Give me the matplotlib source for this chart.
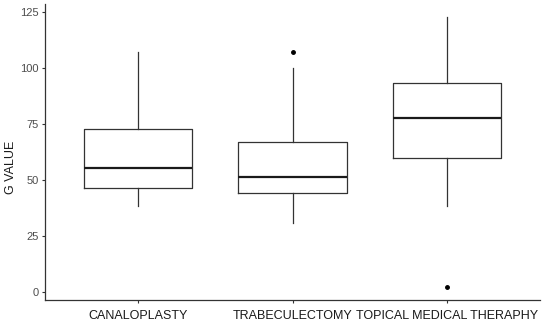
import matplotlib
matplotlib.use("Agg")
import matplotlib.pyplot as plt

categories = ["CANALOPLASTY", "TRABECULECTOMY", "TOPICAL MEDICAL THERAPHY"]
whislo = [38.4, 30.7, 38.5]
q1 = [46.6, 44.3, 59.8]
med = [55.4, 51.5, 77.5]
q3 = [72.6, 67.0, 93.5]
whishi = [107.3, 100.1, 122.6]
fliers = [[], [107.3], [2.4]]
yticks = [0, 25, 50, 75, 100, 125]

plt.rcParams['font.family'] = ['Liberation Sans', 'DejaVu Sans']

fig = plt.figure(figsize=(5.5, 3.34), dpi=100)
ax = fig.add_axes([45/550, 1-300/334, (540-45)/550, (300-4)/334])

stats = []
for i, c in enumerate(categories):
    stats.append(dict(label=c, whislo=whislo[i], q1=q1[i], med=med[i],
                      q3=q3[i], whishi=whishi[i], fliers=fliers[i]))

pos = list(range(1, len(categories)+1))
ax.bxp(stats, positions=pos, widths=0.7, showcaps=False,
       boxprops=dict(color='#333333', linewidth=0.9),
       whiskerprops=dict(color='#333333', linewidth=0.9),
       medianprops=dict(color='#1a1a1a', linewidth=1.6),
       flierprops=dict(marker='o', markerfacecolor='black', markeredgecolor='black', markersize=2.5))

ax.set_xlim(0.4, 3.6)
ax.set_ylim(-3.6, 128.6)
ax.set_yticks(yticks)
ax.set_yticklabels([str(t) for t in yticks])
ax.set_xticks(pos)
ax.set_xticklabels(categories)
for s in ['top', 'right']:
    ax.spines[s].set_visible(False)
for s in ['left', 'bottom']:
    ax.spines[s].set_color('#333333')
    ax.spines[s].set_linewidth(0.9)
ax.tick_params(axis='y', labelsize=8, labelcolor='#4D4D4D', color='#333333', length=2.5, width=0.8, pad=2)
ax.tick_params(axis='x', labelsize=9, labelcolor='#1a1a1a', color='#333333', length=2.5, width=0.8, pad=5)
ax.set_ylabel("G VALUE", fontsize=9, color='#1a1a1a')
ax.yaxis.set_label_coords((17-45)/495, (300-167)/296)

fig.savefig("out.png", dpi=100)
